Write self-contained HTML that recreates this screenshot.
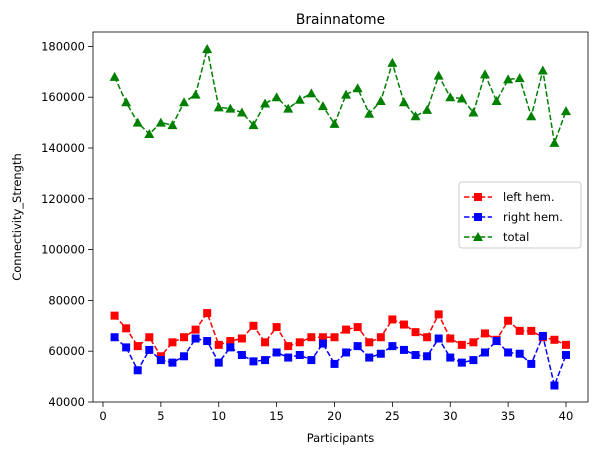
<!DOCTYPE html>
<html><head><meta charset="utf-8"><style>
body{margin:0;background:#fff;font-family:"DejaVu Sans",sans-serif}
svg text{font-family:"DejaVu Sans",sans-serif;fill:#000}
</style></head><body>
<svg id="c" width="601" height="455"></svg>
<script>
const participants=[];for(let i=1;i<=40;i++)participants.push(i);
const totalVals=[168000,158000,150000,145500,150000,149000,158000,161000,179000,156000,155500,154000,149000,157500,160000,155500,159000,161500,156500,149500,161000,163500,153500,158500,173500,158000,152500,155000,168500,160000,159500,154000,169000,158500,167000,167500,152500,170500,142000,154500];
const leftVals=[74000,69000,62000,65500,58000,63500,65500,68500,75000,62500,64000,65000,70000,63500,69500,62000,63500,65500,65500,65500,68500,69500,63500,65500,72500,70500,67500,65500,74500,65000,62500,63500,67000,64500,72000,68000,68000,65500,64500,62500];
const rightVals=[65500,61500,52500,60500,56500,55500,58000,65000,64000,55500,61500,58500,56000,56500,59500,57500,58500,56500,63000,55000,59500,62000,57500,59000,62000,60500,58500,58000,65000,57500,55500,56500,59500,64000,59500,59000,55000,66000,46500,58500];
const xTicks=[0,5,10,15,20,25,30,35,40];
const yTicks=[40000,60000,80000,100000,120000,140000,160000,180000];
const NS='http://www.w3.org/2000/svg';
const svg=document.getElementById('c');
const L=93,R=588,T=32,B=402;
const xs=v=>103+(v-0)*(566-103)/40;
const ys=v=>402-(v-40000)*50.8/20000;
function el(tag,attrs,parent){const e=document.createElementNS(NS,tag);for(const k in attrs)e.setAttribute(k,attrs[k]);(parent||svg).appendChild(e);return e;}
const ax=el('g',{});


xTicks.forEach(t=>{const x=xs(t);el('line',{x1:x,x2:x,y1:B,y2:B+5,stroke:'#000','stroke-width':0.8},ax);
const tx=el('text',{x:x,y:B+18,'text-anchor':'middle','font-size':11.5},ax);tx.textContent=t;

});
yTicks.forEach(t=>{const y=ys(t);el('line',{x1:L-5,x2:L,y1:y,y2:y,stroke:'#000','stroke-width':0.8},ax);
const tx=el('text',{x:L-8,y:y+4,'text-anchor':'end','font-size':11.5},ax);tx.textContent=t;

});
function series(vals,color,marker,name){
const g=el('g',{});


el('polyline',{points:vals.map((v,i)=>xs(participants[i])+','+ys(v)).join(' '),fill:'none',stroke:color,'stroke-width':1.5,'stroke-dasharray':'5.5,2.4'},g);
vals.forEach((v,i)=>{const x=xs(participants[i]),y=ys(v);let m;
if(marker==='s')m=el('rect',{x:x-4,y:y-4,width:8,height:8,fill:color},g);
else m=el('polygon',{points:`${x},${y-5} ${x-5},${y+4} ${x+5},${y+4}`,fill:color},g);

});
}
series(leftVals,'#ff0000','s','left-hem-series');
series(rightVals,'#0000ff','s','right-hem-series');
series(totalVals,'#008000','t','total-series');
el('rect',{x:L,y:T,width:R-L,height:B-T,fill:'none',stroke:'#000','stroke-width':0.8});
const title=el('text',{x:(L+R)/2,y:24,'text-anchor':'middle','font-size':13.8});title.textContent='Brainnatome';


const xl=el('text',{x:(L+R)/2,y:442,'text-anchor':'middle','font-size':11.5});xl.textContent='Participants';


const yl=el('text',{x:21,y:(T+B)/2,'text-anchor':'middle','font-size':11.5,transform:`rotate(-90 21 ${(T+B)/2})`});yl.textContent='Connectivity_Strength';


const lg=el('g',{});


el('rect',{x:459,y:182,width:122,height:66,rx:3,fill:'#fff',stroke:'#ccc','stroke-width':1},lg);
[['left hem.','#ff0000','s'],['right hem.','#0000ff','s'],['total','#008000','t']].forEach((d,i)=>{
const y=197+i*20;
el('line',{x1:464,x2:492,y1:y,y2:y,stroke:d[1],'stroke-width':1.5,'stroke-dasharray':'5.5,2.4'},lg);
if(d[2]==='s')el('rect',{x:474,y:y-4,width:8,height:8,fill:d[1]},lg);
else el('polygon',{points:`478,${y-5} 473,${y+4} 483,${y+4}`,fill:d[1]},lg);
const t=el('text',{x:503,y:y+4,'font-size':11.5},lg);t.textContent=d[0];

});
</script>
</body></html>
